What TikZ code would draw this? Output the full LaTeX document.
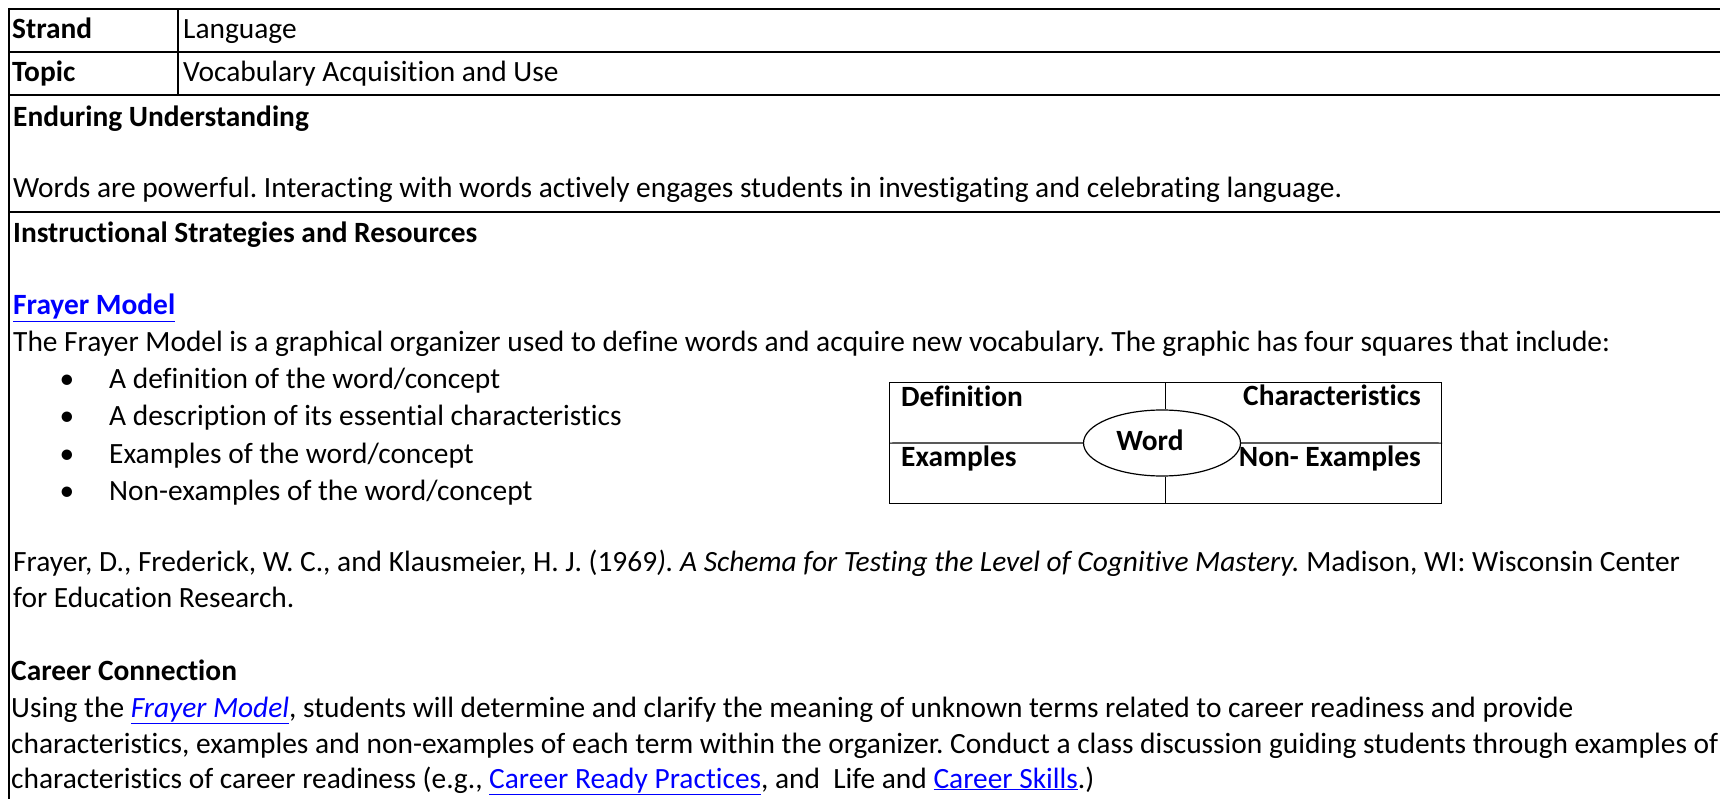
\documentclass[tikz,border=0pt]{standalone}
\usepackage{fontspec}
\setmainfont{Carlito}[Ligatures=NoCommon]
\usepackage{tikz}
\usetikzlibrary{shapes.geometric}
\definecolor{linkblue}{RGB}{0,0,255}
\frenchspacing
\tikzstyle{txt} = [anchor=base west, inner sep=0pt, font=\fontsize{29.4}{35}\selectfont]
\tikzstyle{hd} = [txt, font=\fontsize{29.4}{35}\selectfont\bfseries]
\tikzstyle{rule} = [line width=1.8pt]
\tikzstyle{thin} = [line width=1.2pt]
\newcommand{\lnk}[1]{\textcolor{linkblue}{\underline{#1}}}

\begin{document}
\begin{tikzpicture}[x=1pt,y=-1pt]
  \useasboundingbox[fill=white] (0,0) rectangle (1720,799);
  % table rules
  \draw[rule] (8,9) -- (1720,9);
  \draw[rule] (8,52) -- (1720,52);
  \draw[rule] (8,95) -- (1720,95);
  \draw[rule] (8,212) -- (1720,212);
  \draw[rule] (9,8) -- (9,799);
  \draw[rule] (178,9) -- (178,95);

  \node[hd] (s) at (12,39) {Strand};
  \node[txt] (sl) at (183,39) {Language};
  \node[hd] (t) at (12,82) {Topic};
  \node[txt] (tl) at (183,82) {Vocabulary Acquisition and Use};
  \node[hd] (eu) at (13,127) {Enduring Understanding};
  \node[txt] (eut) at (13,198) {Words are powerful. Interacting with words actively engages students in investigating and celebrating language.};
  \node[hd] (is) at (13,243) {Instructional Strategies and Resources};
  \node[hd] (fm) at (13,315) {\lnk{Frayer Model}};
  \node[txt] (fmt) at (13,352) {The Frayer Model is a graphical organizer used to define words and acquire new vocabulary. The graphic has four squares that include:};

  % bullets
  \foreach \y/\t [count=\i] in {388/{A definition of the word/concept},
      425/{A description of its essential characteristics},
      463/{Examples of the word/concept},
      500/{Non-examples of the word/concept}}{
    \node[txt, anchor=base] (b\i) at (67,\y) {•};
    \node[txt] (bt\i) at (109,\y) {\t};
  }

  % frayer model
  \node[draw, thin, anchor=north west, minimum width=552, minimum height=121, inner sep=0pt] (fb) at (889,382) {};
  \node[draw, thin, ellipse, fill=white, minimum width=157, minimum height=66, inner sep=0pt] (w) at (1162,443) {};
  \draw[thin] (fb.north) -- (fb.north |- w.north);
  \draw[thin] (fb.south |- w.south) -- (fb.south);
  \draw[thin] (fb.west) -- (w.west);
  \draw[thin] (w.east) -- (fb.east);
  \node[hd, anchor=base] (wd) at (1150,450) {Word};
  \node[hd] (df) at (901,406) {Definition};
  \node[hd, anchor=base east] (ch) at (1421,405) {Characteristics};
  \node[hd] (ex) at (901,466) {Examples};
  \node[hd, anchor=base east] (ne) at (1421,466) {Non- Examples};

  \node[txt] (r1) at (13,571) {Frayer, D., Frederick, W. C., and Klausmeier, H. J. (1969\textit{). A Schema for Testing the Level of Cognitive Mastery.} Madison, WI: Wisconsin Center};
  \node[txt] (r2) at (13,607) {for Education Research.};

  \node[hd] (cc) at (11,680) {Career Connection};
  \node[txt] (c1) at (11,717) {Using the \lnk{\textit{Frayer Model}}, students will determine and clarify the meaning of unknown terms related to career readiness and provide};
  \node[txt] (c2) at (11,753) {characteristics, examples and non-examples of each term within the organizer. Conduct a class discussion guiding students through examples of};
  \node[txt] (c3) at (11,788) {characteristics of career readiness (e.g., \lnk{Career Ready Practices}, and\ \ Life and \lnk{Career Skills}.)};
\end{tikzpicture}
\end{document}
